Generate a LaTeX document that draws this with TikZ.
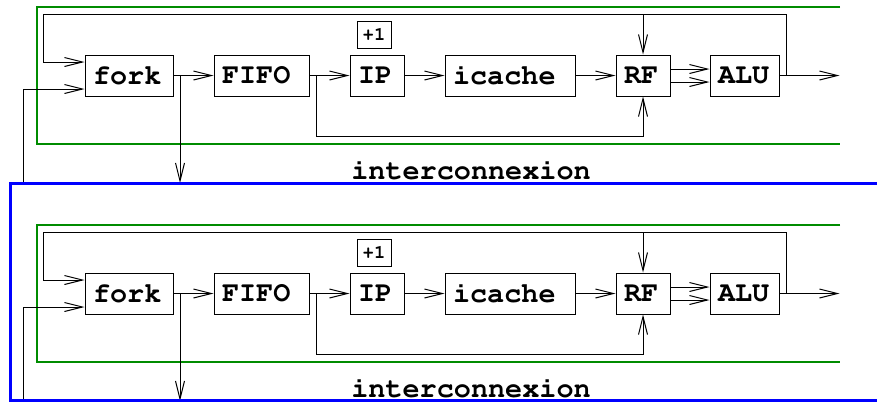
\documentclass[tikz,border=0pt]{standalone}
\usepackage[T1]{fontenc}
\usepackage{courier}
\usetikzlibrary{arrows.meta}
\definecolor{framegreen}{RGB}{0,140,0}
\begin{document}
\begin{tikzpicture}[x=0.5pt,y=-0.5pt,line width=0.5pt,
  font=\fontsize{14.25}{16}\selectfont\ttfamily\bfseries,
  blk/.style={draw,text width=#1,align=left,inner xsep=4pt,inner ysep=0pt,minimum height=20.5pt},
  arr/.style={-{Straight Barb[length=9pt,width=4.5pt]}},
  frame/.style={draw=framegreen,line width=0.6pt}]
\useasboundingbox (0,0) rectangle (877,403);
\foreach \s/\dy in {a/0,b/218}{
\begin{scope}[shift={(0,\dy)}]
% stage boxes
\node[blk=36pt] (fork\s) at (129,75.5) {fork};
\node[blk=39.5pt] (fifo\s) at (261.5,75.5) {FIFO};
\node[blk=19pt] (ip\s) at (377,75.5) {IP};
\node[blk=57pt] (icache\s) at (510,75.5) {icache};
\node[blk=19pt] (rf\s) at (643,75.5) {RF};
\node[blk=26.5pt] (alu\s) at (744.5,75.5) {ALU};
\node[draw,font=\fontsize{9.5}{11}\selectfont\ttfamily\bfseries,minimum width=17pt,minimum height=13.5pt,inner sep=0pt] (inc\s) at (374,34.5) {+1};
\coordinate (down\s) at (180,183);
\coordinate (in\s) at (23,183);
\coordinate (low\s) at (316,136);
\coordinate (up\s) at (786,14);
\coordinate (back\s) at (43,14);
\node (net\s) at (471,170) {interconnexion};
% green frame
\draw[frame] (840,7) -- (37,7) -- (37,144) -- (840,144);
% connections
\draw[arr] (fork\s.east) -- (fifo\s.west);
\draw[arr] (down\s |- fork\s.east) -- (down\s);
\draw[arr] (fifo\s.east) -- (ip\s.west);
\draw[arr] (low\s |- fifo\s.east) -- (low\s) -| (rf\s.south);
\draw[arr] (ip\s.east) -- (icache\s.west);
\draw[arr] (icache\s.east) -- (rf\s.west);
\draw[arr] ([yshift=3.25pt]rf\s.east) -- ([yshift=3.25pt]alu\s.west);
\draw[arr] ([yshift=-3.25pt]rf\s.east) -- ([yshift=-3.25pt]alu\s.west);
\draw[arr] (alu\s.east) -- ++(60,0);
\draw[arr] (up\s |- alu\s.east) -- (up\s) -- (back\s) |- ([yshift=6.75pt]fork\s.west);
\draw[arr] (rf\s.north |- up\s) -- (rf\s.north);
\draw[arr] (in\s) |- ([yshift=-6.75pt]fork\s.west);
\end{scope}}
% highlighted stage
\draw[blue,line width=1.5pt] (885,183) -- (10,183) -- (10,400.5) -- (885,400.5);
\end{tikzpicture}
\end{document}
